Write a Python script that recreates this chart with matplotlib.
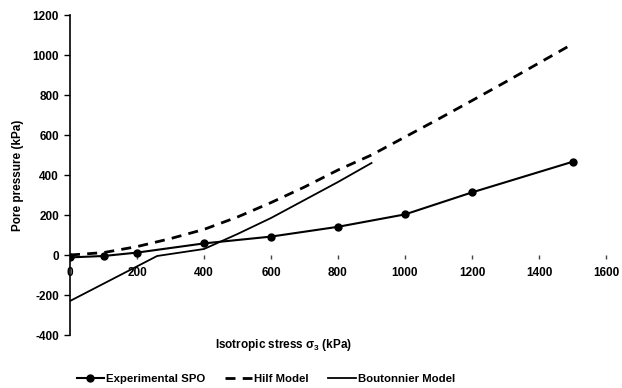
import matplotlib
matplotlib.use('Agg')
import matplotlib.pyplot as plt

plt.rcParams['font.family'] = ['Liberation Sans', 'DejaVu Sans']
plt.rcParams['font.weight'] = 'bold'
plt.rcParams['axes.unicode_minus'] = False
plt.rcParams['mathtext.fontset'] = 'custom'
plt.rcParams['mathtext.rm'] = 'Liberation Sans:bold'
plt.rcParams['mathtext.it'] = 'Liberation Sans:bold'
plt.rcParams['mathtext.bf'] = 'Liberation Sans:bold'

# experimental SPO points
exp_x = [0, 100, 200, 400, 600, 800, 1000, 1200, 1500]
exp_y = [-12, -5, 12, 58, 92, 141, 203, 313, 466]

# Hilf model
hilf_x = [0, 100, 200, 300, 400, 500, 600, 700, 800, 900, 1000, 1100, 1200, 1300, 1400, 1500]
hilf_y = [0, 12, 42, 82, 128, 190, 262, 340, 425, 500, 590, 680, 772, 865, 960, 1055]

# Boutonnier model
bout_x = [0, 260, 400, 500, 600, 700, 800, 900]
bout_y = [-230, -5, 30, 105, 185, 275, 365, 460]

fig = plt.figure(figsize=(6.22, 3.88), dpi=100)
ax = fig.add_axes([70/622, 1-335/388, 536/622, 320/388])

ax.plot(exp_x, exp_y, color='black', lw=1.5, marker='o', ms=5, label='Experimental SPO')
ax.plot(hilf_x, hilf_y, color='black', lw=2, dashes=(3.6, 2.6), label='Hilf Model')
ax.plot(bout_x, bout_y, color='black', lw=1.3, label='Boutonnier Model')

ax.set_xlim(0, 1600)
ax.set_ylim(-400, 1200)
ax.set_xticks(range(0, 1601, 200))
ax.set_yticks(range(-400, 1201, 200))

for s in ['top', 'right']:
    ax.spines[s].set_visible(False)
ax.spines['bottom'].set_position(('data', 0))
ax.spines['bottom'].set_color('none')
ax.spines['left'].set_linewidth(1.2)
ax.tick_params(axis='x', direction='out', length=3, width=1, color='#444444', labelsize=8.5, pad=6)
ax.tick_params(axis='y', direction='out', length=4, width=1, labelsize=8.5, pad=4)

fig.text(18/622, 1-175/388, 'Pore pressure (kPa)', rotation=90, ha='center', va='center',
         fontsize=8.5, fontweight='bold')
fig.text(284/622, 1-345/388, r'Isotropic stress $\sigma_3$ (kPa)', ha='center', va='center',
         fontsize=8.5, fontweight='bold')

fig.legend(loc='center', bbox_to_anchor=(266/622, 1-379/388), ncol=3, frameon=False,
           fontsize=8.2, handlelength=2.4, handletextpad=0.2, columnspacing=1.7,
           borderpad=0, borderaxespad=0)

fig.savefig('out.png', dpi=100)
